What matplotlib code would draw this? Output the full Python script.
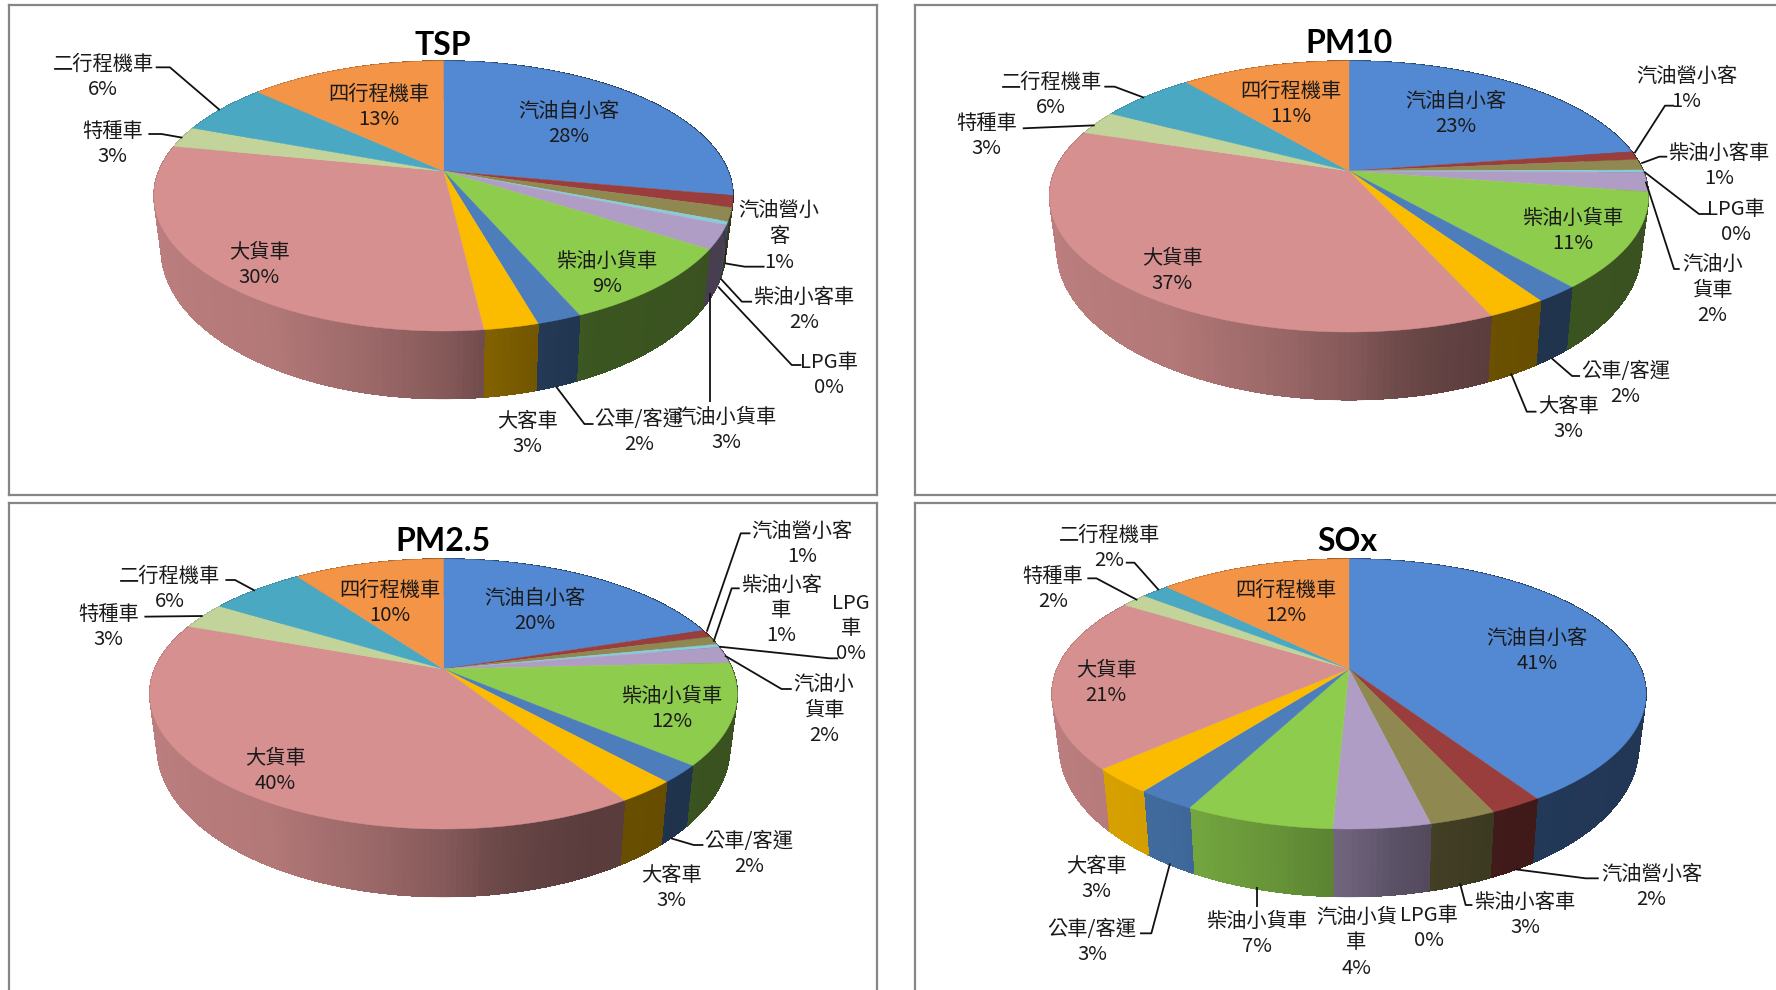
import numpy as np
import matplotlib
matplotlib.use("Agg")
import matplotlib.pyplot as plt
from matplotlib.collections import PolyCollection, LineCollection
from matplotlib.patches import Polygon

plt.rcParams['font.family'] = ['Noto Sans CJK TC', 'DejaVu Sans']

# ---------- data ----------
categories = ['汽油自小客', '汽油營小客', '柴油小客車', 'LPG車', '汽油小貨車', '柴油小貨車',
              '公車/客運', '大客車', '大貨車', '特種車', '二行程機車', '四行程機車']
tsp = [27.9, 1.4, 1.6, 0.4, 2.8, 9.4, 2.1, 2.55, 30.0, 2.55, 6.2, 13.1]
pm10 = [22.6, 1.0, 1.3, 0.3, 2.3, 11.3, 2.0, 2.7, 36.6, 2.9, 6.2, 10.9]
pm25 = [20.0, 0.9, 1.0, 0.4, 2.0, 12.1, 2.1, 2.75, 39.6, 3.2, 6.3, 9.9]
sox = [40.7, 2.4, 3.05, 0.0, 4.4, 6.8, 2.7, 3.0, 20.7, 1.7, 1.8, 12.4]

# wrapped label text where the source breaks a name over several lines
wrap_tsp = {'汽油營小客': ['汽油營小', '客']}
wrap_pm10 = {'汽油小貨車': ['汽油小', '貨車']}
wrap_pm25 = {'柴油小客車': ['柴油小客', '車'], 'LPG車': ['LPG', '車'], '汽油小貨車': ['汽油小', '貨車']}
wrap_sox = {'汽油小貨車': ['汽油小貨', '車']}

# ---------- style ----------
colors = ['#5389D3', '#9A3E3D', '#8F8850', '#8ACBDA', '#B09DC5', '#8ECC4E',
          '#4D7EBB', '#FBBC00', '#D79090', '#C2D49A', '#4BA8C3', '#F39446']
FRAME = '#868686'
XS, YS = 1568 / 888, 3.0   # measuring-grid scale


def lay(ox, oy, xs, ys):
    return [(ox + x / XS, oy + y / YS) for x, y in zip(xs, ys)]


panels = [
    dict(title='TSP', values=tsp, wrap=wrap_tsp, box=(8.5, 5, 877, 495), hub=(443.5, 171),
         top=61, bottom=331, left=154, right=733, origin=(0, 0), tpos=(782, 130),
         lx=[1004, 1376, 1420, 1463, 1282, 1072, 1128, 931, 458, 199, 182, 669],
         ly=[365, 705, 925, 1118, 1285, 815, 1291, 1295, 788, 426, 226, 316],
         leaders=[[(1280, 790), (1315, 800), (1350, 800)],
                  [(1272, 835), (1310, 905), (1328, 905)],
                  [(1268, 860), (1398, 1095), (1415, 1095)],
                  [(1253, 880), (1253, 1207)],
                  [(982, 1160), (1032, 1272), (1048, 1272)],
                  [(322, 413), (285, 402), (262, 402)],
                  [(388, 330), (300, 202), (275, 202)]]),
    dict(title='PM10', values=pm10, wrap=wrap_pm10, box=(915, 5, 1800, 495), hub=(1349, 171),
         top=61, bottom=332, left=1049, right=1648, origin=(888, 0), tpos=(814, 125),
         lx=[1002, 1410, 1467, 1498, 1456, 1210, 1302, 1202, 502, 174, 288, 711],
         ly=[336, 260, 492, 660, 865, 688, 1146, 1252, 806, 402, 280, 306],
         leaders=[[(1318, 460), (1372, 317), (1388, 317)],
                  [(1330, 490), (1362, 470), (1376, 470)],
                  [(1335, 515), (1432, 642), (1450, 642)],
                  [(1338, 545), (1388, 807), (1398, 807)],
                  [(1172, 1075), (1208, 1128), (1222, 1128)],
                  [(1100, 1120), (1128, 1235), (1145, 1235)],
                  [(365, 376), (238, 385)],
                  [(452, 293), (400, 260), (382, 260)]]),
    dict(title='PM2.5', values=pm25, wrap=wrap_pm25, box=(8.5, 503, 877, 1010), hub=(443.5, 669),
         top=559, bottom=829, left=149.5, right=737, origin=(0, 490), tpos=(782, 150),
         lx=[945, 1416, 1380, 1503, 1455, 1186, 1322, 1186, 486, 192, 300, 688],
         ly=[358, 155, 355, 410, 655, 652, 1086, 1188, 836, 405, 291, 333],
         leaders=[[(1248, 425), (1308, 130), (1325, 130)],
                  [(1260, 455), (1292, 295), (1306, 295)],
                  [(1270, 470), (1465, 505), (1480, 505)],
                  [(1280, 497), (1380, 597), (1398, 597)],
                  [(1185, 1045), (1225, 1065), (1242, 1065)],
                  [(358, 378), (255, 380)],
                  [(450, 302), (415, 270), (398, 270)]]),
    dict(title='SOx', values=sox, wrap=wrap_sox, box=(915, 503, 1800, 1010), hub=(1349, 669),
         top=559, bottom=829, left=1052, right=1646, origin=(888, 490), tpos=(812, 150),
         lx=[1146, 1348, 1125, 955, 827, 652, 360, 368, 385, 291, 391, 702],
         ly=[478, 1185, 1268, 1308, 1353, 1326, 1350, 1161, 572, 290, 168, 333],
         leaders=[[(1108, 1138), (1232, 1165), (1255, 1165)],
                  [(1010, 1180), (1020, 1245), (1032, 1245)],
                  [(498, 1120), (465, 1330), (445, 1330)],
                  [(652, 1190), (652, 1250)],
                  [(440, 330), (368, 265), (352, 265)],
                  [(478, 300), (435, 218), (420, 218)]]),
]

W, H = 1776, 990
fig = plt.figure(figsize=(W / 100, H / 100), dpi=100, facecolor='white')


def shade(x_rel):
    return np.interp(x_rel, [-1, -0.6, -0.25, 0, 0.15, 0.3, 0.5, 1],
                     [0.87, 0.83, 0.72, 0.62, 0.52, 0.46, 0.42, 0.40])


def darken(c, f):
    r = matplotlib.colors.to_rgb(c)
    return tuple(v * f for v in r)


for p in panels:
    x0, y0, x1, y1 = p['box']
    ax = fig.add_axes([x0 / W, 1 - y1 / H, (x1 - x0) / W, (y1 - y0) / H])
    ax.set_xlim(x0, x1)
    ax.set_ylim(y1, y0)
    ax.set_xticks([])
    ax.set_yticks([])
    for s in ax.spines.values():
        s.set_color(FRAME)
        s.set_linewidth(1.6)

    hx, hy = p['hub']
    up, down = hy - p['top'], p['bottom'] - hy
    a = (down - up) / (down + up)
    c = up * (1 + a)
    rx = (p['right'] - p['left']) / 2
    k = rx * np.sqrt(1 - a * a)

    def rim(theta):
        u, v = np.sin(theta), np.cos(theta)
        w = 1 + a * v
        return hx + k * u / w, hy - c * v / w

    def base(x, y):
        return hx + (x - hx) * 0.975, hy + 50 + 1.11 * (y - hy)

    vals = np.array(p['values'], dtype=float)
    edges = np.concatenate([[0], np.cumsum(vals)]) / vals.sum() * 2 * np.pi

    # side wall: aliased strips avoid seams, the lower edge is smoothed by a thin line
    for i, col in enumerate(colors):
        if vals[i] <= 0:
            continue
        th = np.linspace(edges[i], edges[i + 1], max(3, int(vals[i] * 4)))
        x, y = rim(th)
        bx, by = base(x, y)
        quads, cols, segs = [], [], []
        for j in range(len(th) - 1):
            quads.append([(x[j], y[j]), (x[j + 1], y[j + 1]), (bx[j + 1], by[j + 1]), (bx[j], by[j])])
            cols.append(darken(col, shade((x[j] + x[j + 1] - 2 * hx) / (2 * rx))))
            segs.append([(bx[j], by[j]), (bx[j + 1], by[j + 1])])
        ax.add_collection(PolyCollection(quads, facecolors=cols, edgecolors=cols, linewidths=0.5,
                                         antialiaseds=False, zorder=2))
        ax.add_collection(LineCollection(segs, colors=cols, linewidths=0.8, zorder=2.1))

    # top faces
    for i, col in enumerate(colors):
        if vals[i] <= 0:
            continue
        th = np.linspace(edges[i], edges[i + 1], max(3, int(vals[i] * 6)))
        x, y = rim(th)
        pts = np.column_stack([np.r_[hx, x], np.r_[hy, y]])
        ax.add_patch(Polygon(pts, closed=True, facecolor=col, edgecolor=col, linewidth=0.3, zorder=3))

    ox, oy = p['origin']
    # leader lines
    for line in p['leaders']:
        xs = [ox + q[0] / XS for q in line]
        ys = [oy + q[1] / YS for q in line]
        ax.plot(xs, ys, color='#111111', lw=1.3, zorder=4, solid_capstyle='butt')

    # data labels
    for name, v, (tx, ty) in zip(categories, vals, lay(ox, oy, p['lx'], p['ly'])):
        lines = p['wrap'].get(name, [name]) + [f'{v:.0f}%']
        for n, t in enumerate(lines):
            ax.text(tx, ty + 2 + (n - (len(lines) - 1) / 2) * 25.3, t, ha='center', va='center',
                    fontsize=14.6, color='#1a1a1a', zorder=5)

    ax.text(ox + p['tpos'][0] / XS, oy + p['tpos'][1] / YS + 2, p['title'], ha='center', va='center',
            fontsize=23, fontweight='bold', family='Lato', color='black', zorder=5)

fig.savefig('out.png', dpi=100)
